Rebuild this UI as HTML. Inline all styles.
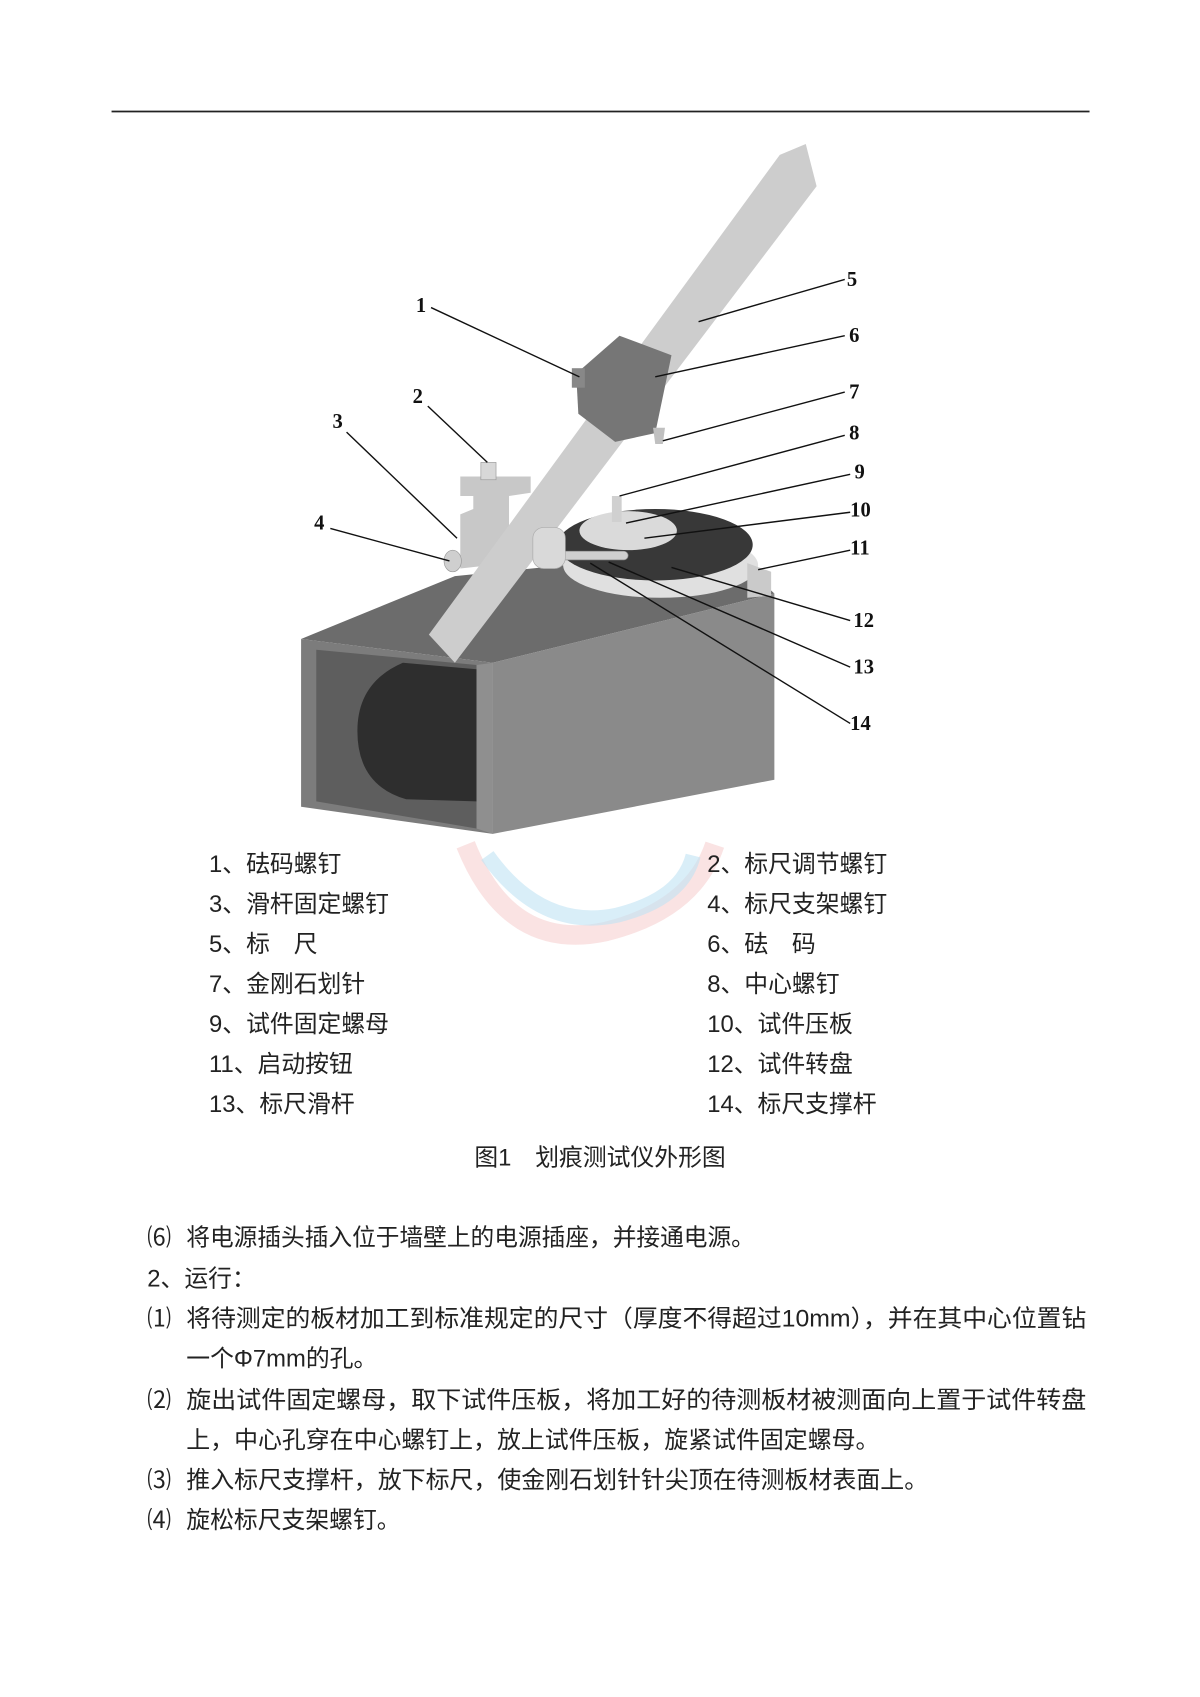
<!DOCTYPE html>
<html><head><meta charset="utf-8"><style>
html,body{margin:0;padding:0;background:#fff;}
svg{display:block;}
.lab{font-family:"Liberation Serif",serif;font-weight:bold;font-size:19px;fill:#111;}
.lg{font-family:"Liberation Sans","Noto Sans CJK SC",sans-serif;font-size:22px;fill:#222;}
.bd{font-family:"Liberation Sans","Noto Sans CJK SC",sans-serif;font-size:22px;fill:#222;}
</style></head><body>
<svg width="1200" height="1697" viewBox="0 0 1108 1567" preserveAspectRatio="none" xmlns="http://www.w3.org/2000/svg">
<line x1="103" y1="103" x2="1006" y2="103" stroke="#222" stroke-width="1.6"/>
<!-- box -->
<polygon points="278,590 455,612 715,548 690,525 560,518 420,532" fill="#6c6c6c"/>
<polygon points="455,612 715,548 715,720 455,770" fill="#8a8a8a"/>
<polygon points="278,590 455,612 455,770 278,745" fill="#7c7c7c"/>
<polygon points="292,600 440,614 440,765 292,740" fill="#5e5e5e"/>
<path d="M440,618 L372,612 Q330,630 330,675 Q330,725 375,738 L440,740 Z" fill="#2e2e2e"/>
<polygon points="440,614 455,612 455,770 440,765" fill="#8f8f8f"/>
<!-- bracket 2/3 -->
<polygon points="425,440 490,440 490,455 470,458 470,520 425,525 425,475 437,470 437,458 425,458" fill="#c8c8c8"/>
<rect x="444" y="427" width="14" height="16" fill="#d8d8d8" stroke="#999" stroke-width="0.6"/>
<ellipse cx="418" cy="518" rx="8" ry="10" fill="#cfcfcf" stroke="#999" stroke-width="0.6"/>
<!-- disk -->
<ellipse cx="610" cy="522" rx="90" ry="30" fill="#e0e0e0"/>
<ellipse cx="605" cy="503" rx="90" ry="33" fill="#383838"/>
<ellipse cx="580" cy="490" rx="45" ry="18" fill="#dadada"/>
<rect x="565" y="458" width="9" height="24" fill="#d0d0d0"/>
<polygon points="690,520 712,528 712,550 690,552" fill="#cacaca"/>
<rect x="515" y="509" width="65" height="8" rx="4" fill="#cfcfcf" stroke="#888" stroke-width="0.6"/>
<!-- ruler -->
<polygon points="396,586 420,612 754,172 744,133 720,143" fill="#cdcdcd"/>
<rect x="492" y="487" width="30" height="38" rx="10" fill="#d9d9d9" stroke="#aaa" stroke-width="0.6"/>
<!-- weight -->
<polygon points="532,345 572,310 620,328 605,400 568,408 534,382" fill="#767676"/>
<rect x="528" y="340" width="12" height="18" fill="#888"/>
<polygon points="603,395 614,395 612,410 605,410" fill="#c0c0c0"/>
<!-- leader lines -->
<g stroke="#111" stroke-width="1.3">
<line x1="398" y1="284" x2="535" y2="348"/>
<line x1="395" y1="375" x2="450" y2="427"/>
<line x1="320" y1="399" x2="422" y2="497"/>
<line x1="305" y1="488" x2="415" y2="518"/>
<line x1="780" y1="258" x2="645" y2="297"/>
<line x1="780" y1="310" x2="605" y2="348"/>
<line x1="780" y1="362" x2="612" y2="407"/>
<line x1="780" y1="402" x2="572" y2="458"/>
<line x1="785" y1="438" x2="578" y2="483"/>
<line x1="785" y1="473" x2="595" y2="497"/>
<line x1="785" y1="508" x2="700" y2="526"/>
<line x1="785" y1="573" x2="620" y2="524"/>
<line x1="785" y1="616" x2="562" y2="519"/>
<line x1="785" y1="668" x2="545" y2="520"/>
</g>
<g class="lab">
<text x="384" y="288">1</text><text x="381" y="372">2</text><text x="307" y="395">3</text><text x="290" y="489">4</text>
<text x="782" y="264">5</text><text x="784" y="316">6</text><text x="784" y="368">7</text><text x="784" y="406">8</text>
<text x="789" y="442">9</text><text x="785" y="477">10</text><text x="785" y="512">11</text><text x="788" y="579">12</text>
<text x="788" y="622">13</text><text x="785" y="674">14</text>
</g>
<!-- watermark -->
<path d="M430,780 Q470,880 560,860 Q640,840 660,780" fill="none" stroke="#f6c8c8" stroke-width="18" opacity="0.5"/>
<path d="M450,790 Q500,860 570,845 Q630,830 640,790" fill="none" stroke="#bfe3f3" stroke-width="14" opacity="0.6"/>
<g class="lg">
<text x="193" y="805">1、砝码螺钉</text><text x="653" y="805">2、标尺调节螺钉</text>
<text x="193" y="842">3、滑杆固定螺钉</text><text x="653" y="842">4、标尺支架螺钉</text>
<text x="193" y="879">5、标　尺</text><text x="653" y="879">6、砝　码</text>
<text x="193" y="916">7、金刚石划针</text><text x="653" y="916">8、中心螺钉</text>
<text x="193" y="953">9、试件固定螺母</text><text x="653" y="953">10、试件压板</text>
<text x="193" y="990">11、启动按钮</text><text x="653" y="990">12、试件转盘</text>
<text x="193" y="1027">13、标尺滑杆</text><text x="653" y="1027">14、标尺支撑杆</text>
<text x="438" y="1076">图1　划痕测试仪外形图</text>
</g>
<g class="bd">
<text x="136" y="1150">⑹</text><text x="172" y="1150" textLength="525" lengthAdjust="spacingAndGlyphs">将电源插头插入位于墙壁上的电源插座，并接通电源。</text>
<text x="136" y="1188">2、运行：</text>
<text x="136" y="1225">⑴</text><text x="172" y="1225" textLength="831" lengthAdjust="spacingAndGlyphs">将待测定的板材加工到标准规定的尺寸（厚度不得超过10mm），并在其中心位置钻</text>
<text x="172" y="1262">一个Φ7mm的孔。</text>
<text x="136" y="1300">⑵</text><text x="172" y="1300" textLength="831" lengthAdjust="spacingAndGlyphs">旋出试件固定螺母，取下试件压板，将加工好的待测板材被测面向上置于试件转盘</text>
<text x="172" y="1337" textLength="640" lengthAdjust="spacingAndGlyphs">上，中心孔穿在中心螺钉上，放上试件压板，旋紧试件固定螺母。</text>
<text x="136" y="1374">⑶</text><text x="172" y="1374" textLength="685" lengthAdjust="spacingAndGlyphs">推入标尺支撑杆，放下标尺，使金刚石划针针尖顶在待测板材表面上。</text>
<text x="136" y="1411">⑷</text><text x="172" y="1411">旋松标尺支架螺钉。</text>
</g>
</svg>
</body></html>
